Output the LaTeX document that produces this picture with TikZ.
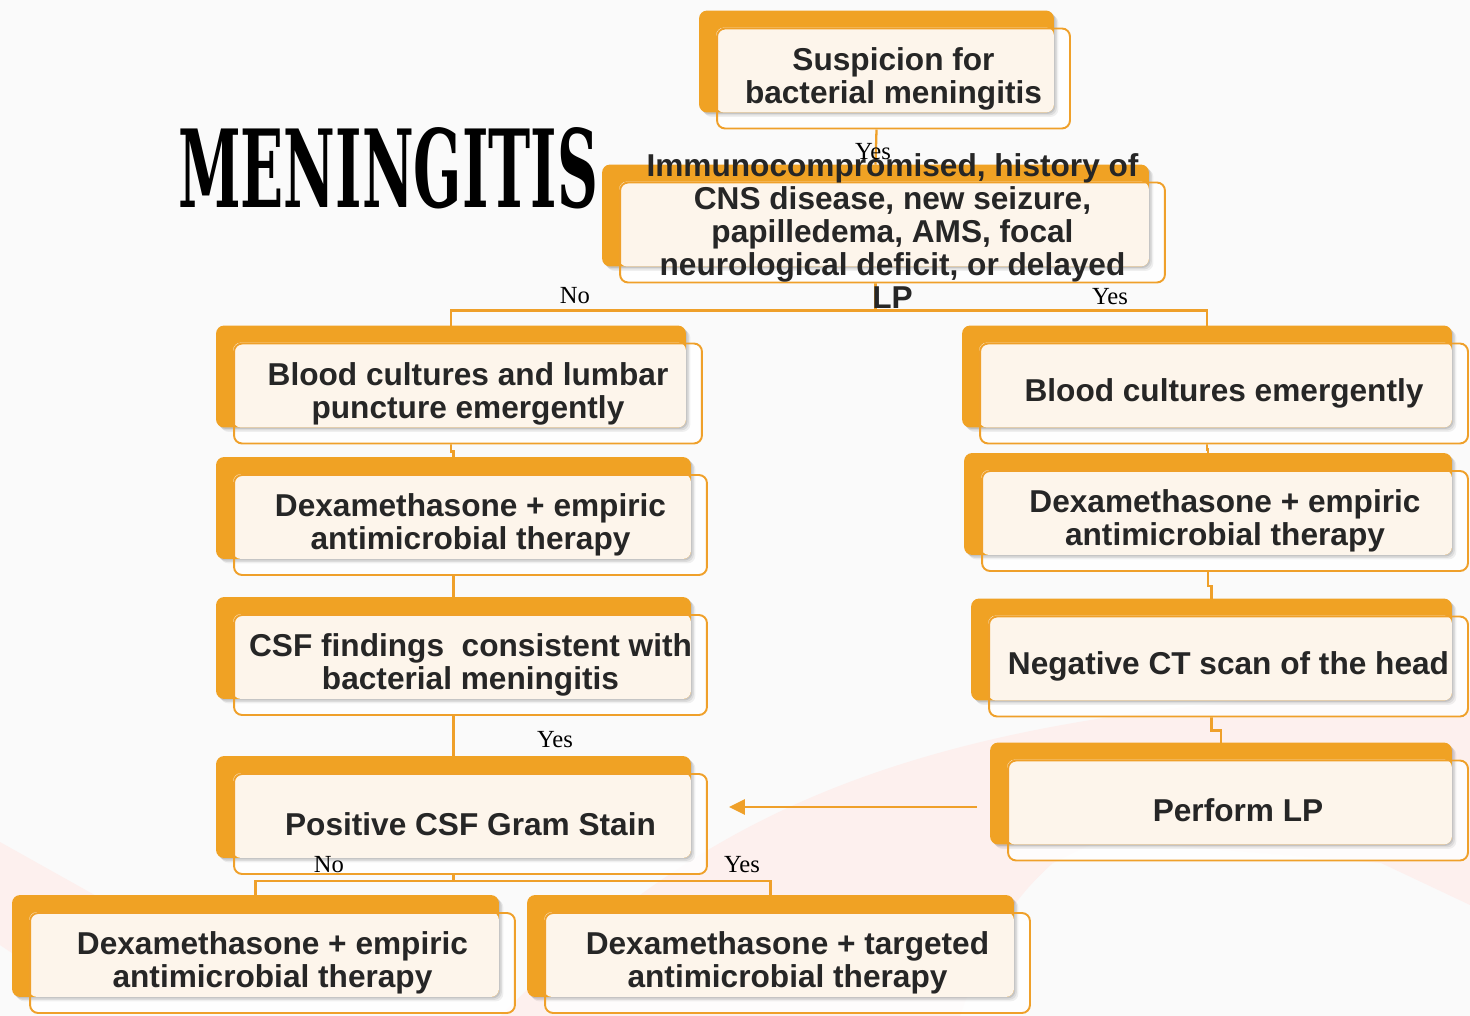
\documentclass[tikz,border=0pt]{standalone}
\usepackage{fontspec}
\setmainfont{Liberation Sans}
\newfontfamily\labelfont{Liberation Serif}
\newfontfamily\titlefont{DejaVu Serif}
\usepackage{graphicx}
\usepackage{tikz}
\usetikzlibrary{positioning, arrows.meta, shadows, backgrounds}

\definecolor{tabfill}{HTML}{F0A224}
\definecolor{edge}{HTML}{EFA02A}
\definecolor{cream}{HTML}{FDF5EB}
\definecolor{pagebg}{HTML}{FAFAFA}
\definecolor{blush}{HTML}{FDF0EE}
\definecolor{ink}{HTML}{262626}

\pgfdeclarelayer{bg}
\pgfdeclarelayer{lines}
\pgfdeclarelayer{fills}
\pgfsetlayers{bg,lines,fills,main}

\tikzset{
    card/.style={draw=edge, line width=1.1pt, rounded corners=0.16cm, minimum height=2cm,
        inner sep=2pt, align=center, text=ink, font=\fontsize{18}{18.7}\selectfont\bfseries},
    cardtext/.style={inner sep=0pt, align=center, text=ink, font=\fontsize{18}{18.7}\selectfont\bfseries},
    softshadow/.style={
        drop shadow={shadow xshift=0.09cm, shadow yshift=-0.09cm, opacity=0.06, fill=black},
        drop shadow={shadow xshift=0.06cm, shadow yshift=-0.06cm, opacity=0.08, fill=black},
        drop shadow={shadow xshift=0.03cm, shadow yshift=-0.03cm, opacity=0.1, fill=black}},
    link/.style={draw=edge, line width=1.3pt},
    answer/.style={inner sep=0pt, font=\labelfont\fontsize{14}{14}\selectfont},
    flowarrow/.style={draw=edge, line width=1.5pt, -{Triangle[length=0.32cm, width=0.3cm]}},
}

\begin{document}
\begin{tikzpicture}[x=0.02cm, y=-0.02cm]
    \useasboundingbox (0,0) rectangle (1470,1016);

    % page and the pink swoosh behind everything
    \begin{pgfonlayer}{bg}
        \fill[pagebg] (0,0) rectangle (1470,1016);
        \fill[blush] (500,1016) .. controls (700,820) and (900,700) .. (1470,690) -- (1470,905)
            -- (1381,863) -- (1100,840) -- (1053,863) .. controls (1000,910) and (980,960) .. (960,1016) -- cycle;
        \fill[blush] (0,842) -- (100,898) -- (15,955) -- (0,945) -- cycle;
    \end{pgfonlayer}

    % title
    \node[inner sep=0pt] (title) at (388,168) {\resizebox{8.4cm}{1.6cm}{\titlefont\bfseries MENINGITIS}};

    % boxes
    \node[card, minimum width=7.06cm] (susp) at (893.5,78.5) {Suspicion for\\bacterial meningitis};
    \node[card, minimum width=10.9cm] (immuno) at (892.5,232.5) {};
    \node[cardtext] (immunotext) at (892.5,231) {Immunocompromised, history of\\CNS disease, new seizure,\\papilledema, AMS, focal\\neurological deficit, or delayed\\LP};

    \node[card, minimum width=9.36cm] (bcl) at (468,393.5) {Blood cultures and lumbar\\puncture emergently};
    \node[card, minimum width=9.46cm] (dexl) at (470.5,525) {Dexamethasone + empiric\\antimicrobial therapy};
    \node[card, minimum width=9.46cm] (csf) at (470.5,665) {CSF findings~ consistent with\\bacterial meningitis};
    \node[card, minimum width=9.46cm] (gram) at (470.5,824) {Positive CSF Gram Stain};
    \node[card, minimum width=9.7cm] (dexe) at (272.5,963) {Dexamethasone + empiric\\antimicrobial therapy};
    \node[card, minimum width=9.7cm] (dext) at (787.5,963) {Dexamethasone + targeted\\antimicrobial therapy};

    \node[card, minimum width=9.76cm] (bcr) at (1224,393.5) {Blood cultures emergently};
    \node[card, minimum width=9.72cm] (dexr) at (1225,521) {Dexamethasone + empiric\\antimicrobial therapy};
    \node[card, minimum width=9.58cm] (ct) at (1228.5,666.5) {Negative CT scan of the head};
    \node[card, minimum width=9.2cm] (lp) at (1238,810.5) {Perform LP};

    % orange tabs and cream faces
    \begin{pgfonlayer}{fills}
        \foreach \n in {susp,immuno,bcl,dexl,csf,gram,dexe,dext,bcr,dexr,ct,lp} {
            \fill[white, fill opacity=0.85, rounded corners=0.16cm] (\n.north west) rectangle (\n.south east);
            \fill[tabfill, rounded corners=0.16cm, softshadow]
                ([shift={(-17,-17)}]\n.north west) rectangle ([shift={(-17,-17)}]\n.south east);
            \fill[cream, rounded corners=0.16cm] (\n.north west) rectangle ([shift={(-17,-17)}]\n.south east);
        }
    \end{pgfonlayer}

    % connectors
    \begin{pgfonlayer}{lines}
        \draw[link] ([xshift=-0.34cm]susp.south) -- ([xshift=-0.34cm, yshift=0.34cm]immuno.north);
        \draw[link] ([xshift=-0.34cm]immuno.south) -- ++(0,27) coordinate (fork1);
        \draw[link] (fork1) -| ([xshift=-0.34cm, yshift=0.34cm]bcl.north);
        \draw[link] (fork1) -| ([xshift=-0.34cm, yshift=0.34cm]bcr.north);

        \draw[link] ([xshift=-0.34cm]bcl.south) -- ++(0,7) -| ([xshift=-0.34cm, yshift=0.34cm]dexl.north);
        \draw[link] ([xshift=-0.34cm]dexl.south) -- ++(0,11) -| ([xshift=-0.34cm, yshift=0.34cm]csf.north);
        \draw[link] ([xshift=-0.34cm]csf.south) -- ++(0,21) -| ([xshift=-0.34cm, yshift=0.34cm]gram.north);
        \draw[link] ([xshift=-0.34cm]gram.south) -- ++(0,6) coordinate (fork2);
        \draw[link] (fork2) -| ([xshift=-0.34cm, yshift=0.34cm]dexe.north);
        \draw[link] (fork2) -| ([xshift=-0.34cm, yshift=0.34cm]dext.north);

        \draw[link] ([xshift=-0.34cm]bcr.south) -- ++(0,5) -| ([xshift=-0.34cm, yshift=0.34cm]dexr.north);
        \draw[link] ([xshift=-0.34cm]dexr.south) -- ++(0,14) -| ([xshift=-0.34cm, yshift=0.34cm]ct.north);
        \draw[link] ([xshift=-0.34cm]ct.south) -- ++(0,13) -| ([xshift=-0.34cm, yshift=0.34cm]lp.north);
    \end{pgfonlayer}

    \draw[flowarrow] ([shift={(-30,-3.5)}]lp.west) -- ([shift={(21,-3.5)}]lp.west -| gram.east);

    % yes / no
    \node[answer] (yesA) at (873,152) {Yes};
    \node[answer] (noB) at (575,296) {No};
    \node[answer] (yesB) at (1110,297) {Yes};
    \node[answer] (yesC) at (555,740) {Yes};
    \node[answer] (noD) at (329,865) {No};
    \node[answer] (yesD) at (742,865) {Yes};

\end{tikzpicture}
\end{document}
